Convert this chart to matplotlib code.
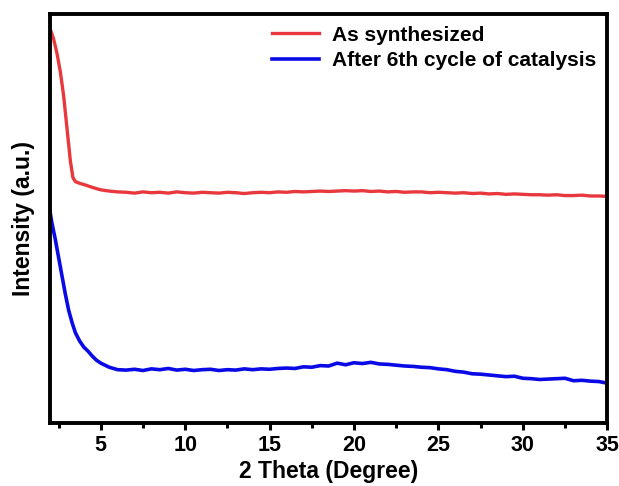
import matplotlib
matplotlib.use("Agg")
import matplotlib.pyplot as plt
from matplotlib.ticker import MultipleLocator

# values (arbitrary intensity units)
red_x = [2.05, 2.2, 2.4, 2.6, 2.8, 3.0, 3.2, 3.35, 3.5, 3.75, 4.0, 4.5, 5.0, 5.5,
         6.0, 6.5, 7.0, 7.5, 8.0, 8.5, 9.0, 9.5, 10.0, 10.5, 11.0, 11.5, 12.0, 12.5,
         13.0, 13.5, 14.0, 14.5, 15.0, 15.5, 16.0, 16.5, 17.0, 17.5, 18.0, 18.5,
         19.0, 19.5, 20.0, 20.5, 21.0, 21.5, 22.0, 22.5, 23.0, 23.5, 24.0, 24.5,
         25.0, 25.5, 26.0, 26.5, 27.0, 27.5, 28.0, 28.5, 29.0, 29.5, 30.0, 30.5,
         31.0, 31.5, 32.0, 32.5, 33.0, 33.5, 34.0, 34.5, 35.0]
red_y = [95.8, 94.0, 90.5, 86.0, 80.0, 72.0, 64.0, 60.0, 59.0, 58.6, 58.3, 57.6, 57.0, 56.7,
         56.5, 56.4, 56.2, 56.5, 56.3, 56.4, 56.2, 56.5, 56.3, 56.2, 56.4, 56.3, 56.2, 56.4,
         56.3, 56.1, 56.3, 56.4, 56.3, 56.5, 56.4, 56.6, 56.5, 56.6, 56.7, 56.6,
         56.7, 56.8, 56.7, 56.8, 56.6, 56.7, 56.5, 56.6, 56.4, 56.5, 56.5, 56.3,
         56.4, 56.3, 56.2, 56.3, 56.1, 56.2, 56.0, 56.1, 55.9, 56.0, 55.9, 55.8,
         55.8, 55.7, 55.8, 55.6, 55.6, 55.7, 55.5, 55.5, 55.4]

blue_x = [2.0, 2.1, 2.3, 2.5, 2.7, 2.9, 3.1, 3.3, 3.5, 3.75, 4.0, 4.25, 4.5, 4.75,
          5.0, 5.5, 6.0, 6.5, 7.0, 7.5, 8.0, 8.5, 9.0, 9.5, 10.0, 10.5, 11.0, 11.5,
          12.0, 12.5, 13.0, 13.5, 14.0, 14.5, 15.0, 15.5, 16.0, 16.5, 17.0, 17.5,
          18.0, 18.5, 19.0, 19.5, 20.0, 20.5, 21.0, 21.5, 22.0, 22.5, 23.0, 23.5,
          24.0, 24.5, 25.0, 25.5, 26.0, 26.5, 27.0, 27.5, 28.0, 28.5, 29.0, 29.5,
          30.0, 30.5, 31.0, 31.5, 32.0, 32.5, 33.0, 33.5, 34.0, 34.5, 35.0]
blue_y = [51.5, 49.0, 45.0, 40.5, 36.0, 31.5, 27.5, 24.5, 22.0, 20.0, 18.5, 17.5, 16.3, 15.3,
          14.6, 13.6, 13.0, 12.9, 13.1, 12.8, 13.2, 13.0, 13.3, 12.9, 13.1, 12.8, 13.0, 13.1,
          12.8, 13.0, 12.9, 13.2, 13.0, 13.2, 13.1, 13.3, 13.4, 13.3, 13.7, 13.6,
          14.0, 13.9, 14.6, 14.2, 14.7, 14.5, 14.8, 14.4, 14.3, 14.1, 13.9, 13.8,
          13.6, 13.5, 13.2, 13.0, 12.6, 12.4, 12.0, 11.9, 11.7, 11.5, 11.3, 11.4,
          10.9, 10.8, 10.6, 10.7, 10.8, 10.9, 10.3, 10.4, 10.2, 10.1, 9.7]

series_names = ["As synthesized", "After 6th cycle of catalysis"]
xticks = [5, 10, 15, 20, 25, 30, 35]

plt.rcParams["font.family"] = ["Liberation Sans", "DejaVu Sans"]
plt.rcParams["font.weight"] = "bold"

fig = plt.figure(figsize=(6.19, 4.86), dpi=100)
ax = fig.add_axes([0.081, 0.13, 0.9, 0.841])

ax.plot(red_x, red_y, color="#e8383d", lw=2.4, label=series_names[0])
ax.plot(blue_x, blue_y, color="#0a0ae6", lw=2.6, label=series_names[1])

ax.set_xlim(2, 35)
ax.set_ylim(0, 100)
ax.set_xticks(xticks)
ax.xaxis.set_minor_locator(MultipleLocator(2.5))
ax.set_yticks([])

for sp in ax.spines.values():
    sp.set_linewidth(2.8)
ax.tick_params(axis="x", which="major", direction="out", length=5, width=2.2,
               labelsize=15.5, pad=4)
ax.tick_params(axis="x", which="minor", direction="out", length=3.5, width=2.2)
for lbl in ax.get_xticklabels():
    lbl.set_fontweight("bold")

ax.set_xlabel("2 Theta (Degree)", fontsize=16.5, fontweight="bold", labelpad=3)
ax.set_ylabel("Intensity (a.u.)", fontsize=16.5, fontweight="bold", labelpad=11)

leg = ax.legend(loc="upper right", frameon=False, fontsize=15, handlelength=2.25,
                handletextpad=0.6, borderaxespad=0.15, labelspacing=0.3)
for t in leg.get_texts():
    t.set_fontweight("bold")

fig.savefig("out.png", dpi=100)
